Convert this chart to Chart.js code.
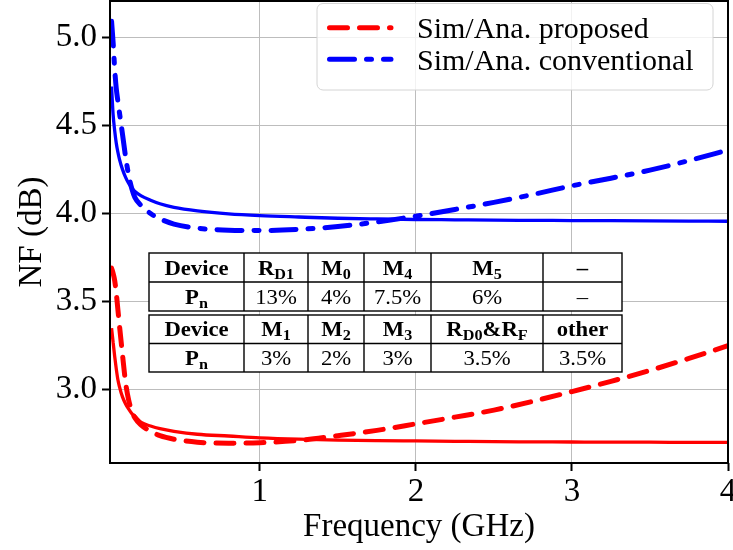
<!DOCTYPE html>
<html><head><meta charset="utf-8">
<script src="https://cdn.jsdelivr.net/npm/chart.js@4/dist/chart.umd.min.js"></script>
<style>html,body{margin:0;padding:0;background:#fff}#wrap{width:733px;height:550px}</style>
</head><body><div id="wrap"><canvas id="c" width="733" height="550"></canvas></div>
<script>
// ---- data ----
const freq = [0.05,0.06,0.07,0.08,0.09,0.1,0.12,0.14,0.16,0.18,0.2,0.24,0.3,0.36,0.45,0.6,0.8,1.0,1.25,1.5,1.75,2.0,2.25,2.5,2.75,3.0,3.25,3.5,3.75,4.0];
const propAna = [3.69,3.66,3.62,3.55,3.46,3.37,3.20,3.04,2.94,2.88,2.84,2.80,2.765,2.74,2.72,2.703,2.697,2.70,2.713,2.74,2.77,2.807,2.845,2.885,2.935,2.99,3.048,3.11,3.178,3.25];
const propSim = [3.35,3.27,3.19,3.12,3.06,3.02,2.96,2.92,2.89,2.865,2.85,2.815,2.795,2.78,2.765,2.748,2.738,2.728,2.72,2.715,2.712,2.71,2.708,2.706,2.705,2.704,2.703,2.703,2.702,2.702];
const convAna = [5.09,4.97,4.82,4.71,4.64,4.575,4.45,4.32,4.215,4.14,4.09,4.045,4.00,3.97,3.94,3.917,3.905,3.903,3.91,3.926,3.952,3.985,4.023,4.063,4.108,4.157,4.20,4.246,4.30,4.36];
const convSim = [4.72,4.56,4.47,4.40,4.35,4.31,4.25,4.205,4.17,4.145,4.125,4.10,4.075,4.055,4.035,4.015,3.998,3.988,3.98,3.973,3.969,3.966,3.964,3.962,3.961,3.96,3.959,3.958,3.957,3.956];
const legendLabels = ['Sim/Ana. proposed','Sim/Ana. conventional'];
const xTicks = [1,2,3,4];
const yTicks = [3.0,3.5,4.0,4.5,5.0];
const xLabel = 'Frequency (GHz)';
const yLabel = 'NF (dB)';
const tableRows = [
  ['Device','R_{D1}','M_{0}','M_{4}','M_{5}','–'],
  ['P_{n}','13%','4%','7.5%','6%','–'],
  ['Device','M_{1}','M_{2}','M_{3}','R_{D0}&R_{F}','other'],
  ['P_{n}','3%','2%','3%','3.5%','3.5%']
];

// ---- styling ----
const FONT = "'Liberation Serif', 'DejaVu Serif', serif";
const GRID = '#bdbdbd';
const RED = '#ff0000', BLUE = '#0000ff';
const DASH_RED = [18, 12];
const DASH_BLUE = [25, 12, 5, 12];

function pts(ys){ return freq.map((f,i)=>({x:f, y:ys[i]})); }

function parseRich(s){
  const parts=[]; const re=/_\{([^}]*)\}/g; let last=0, m;
  while((m=re.exec(s))){ if(m.index>last) parts.push({t:s.slice(last,m.index),sub:false}); parts.push({t:m[1],sub:true}); last=re.lastIndex; }
  if(last<s.length) parts.push({t:s.slice(last),sub:false});
  return parts;
}
function drawRich(ctx, s, cx, base, bold){
  const parts=parseRich(s);
  const sx=1.08;
  const mainF=(bold?'bold ':'')+'21px '+FONT;
  const subF=(bold?'bold ':'')+'15px '+FONT;
  let w=0;
  parts.forEach(p=>{ctx.font=p.sub?subF:mainF; p.w=ctx.measureText(p.t).width*sx; w+=p.w;});
  let x=cx-w/2;
  ctx.textAlign='left'; ctx.textBaseline='alphabetic'; ctx.fillStyle='#000';
  parts.forEach(p=>{
    ctx.font=p.sub?subF:mainF;
    ctx.save(); ctx.translate(x, base+(p.sub?4:0)); ctx.scale(sx,1); ctx.fillText(p.t,0,0); ctx.restore();
    x+=p.w;
  });
}

const overlay = {
  id:'overlay',
  afterDraw(chart){
    const ctx=chart.ctx, a=chart.chartArea;
    ctx.save();
    // frame
    ctx.strokeStyle='#000'; ctx.lineWidth=2;
    ctx.strokeRect(a.left, a.top, a.right-a.left, a.bottom-a.top);
    // table
    const cols=[149,244,308,364,431,543,622];
    const tables=[[253,282,311],[315,343.5,372]];
    tables.forEach((rows,ti)=>{
      ctx.fillStyle='#fff';
      ctx.fillRect(cols[0],rows[0],cols[6]-cols[0],rows[2]-rows[0]);
      ctx.strokeStyle='#000'; ctx.lineWidth=1.4;
      ctx.strokeRect(cols[0],rows[0],cols[6]-cols[0],rows[2]-rows[0]);
      ctx.beginPath();
      ctx.moveTo(cols[0],rows[1]); ctx.lineTo(cols[6],rows[1]);
      for(let c=1;c<6;c++){ ctx.moveTo(cols[c],rows[0]); ctx.lineTo(cols[c],rows[2]); }
      ctx.stroke();
      for(let r=0;r<2;r++){
        const row=tableRows[ti*2+r];
        for(let c=0;c<6;c++){
          const bold = r===0 || c===0;
          drawRich(ctx,row[c],(cols[c]+cols[c+1])/2,rows[r+1]-7.5,bold);
        }
      }
    });
    // legend
    const lx=317, ly=3.5, lw=396, lh=86.5, rr=6;
    ctx.beginPath();
    ctx.moveTo(lx+rr,ly); ctx.lineTo(lx+lw-rr,ly); ctx.arcTo(lx+lw,ly,lx+lw,ly+rr,rr);
    ctx.lineTo(lx+lw,ly+lh-rr); ctx.arcTo(lx+lw,ly+lh,lx+lw-rr,ly+lh,rr);
    ctx.lineTo(lx+rr,ly+lh); ctx.arcTo(lx,ly+lh,lx,ly+lh-rr,rr);
    ctx.lineTo(lx,ly+rr); ctx.arcTo(lx,ly,lx+rr,ly,rr); ctx.closePath();
    ctx.fillStyle='rgba(255,255,255,0.8)'; ctx.fill();
    ctx.strokeStyle='#d4d4d4'; ctx.lineWidth=1; ctx.stroke();
    const ys=[27.7,59.3];
    [0,1].forEach(i=>{
      const ds=chart.data.datasets[i];
      ctx.beginPath(); ctx.setLineDash(ds.borderDash); ctx.lineCap='round';
      ctx.strokeStyle=ds.borderColor; ctx.lineWidth=ds.borderWidth;
      ctx.moveTo(329.5,ys[i]); ctx.lineTo(391,ys[i]); ctx.stroke();
      ctx.setLineDash([]);
      ctx.font='30px '+FONT; ctx.fillStyle='#000'; ctx.textAlign='left'; ctx.textBaseline='alphabetic';
      ctx.fillText(ds.label,417,ys[i]+10.6);
    });
    ctx.restore();
  }
};

new Chart(document.getElementById('c'),{
  type:'line',
  data:{datasets:[
    {label:legendLabels[0], data:pts(propAna), borderColor:RED, borderWidth:5, borderDash:DASH_RED, borderCapStyle:'round', pointRadius:0, fill:false, cubicInterpolationMode:'monotone'},
    {label:legendLabels[1], data:pts(convAna), borderColor:BLUE, borderWidth:5, borderDash:DASH_BLUE, borderCapStyle:'round', pointRadius:0, fill:false, cubicInterpolationMode:'monotone'},
    {label:'proposed sim', data:pts(propSim), borderColor:RED, borderWidth:3.3, pointRadius:0, fill:false, cubicInterpolationMode:'monotone'},
    {label:'conventional sim', data:pts(convSim), borderColor:BLUE, borderWidth:3.3, pointRadius:0, fill:false, cubicInterpolationMode:'monotone'}
  ]},
  options:{
    responsive:false, animation:false, devicePixelRatio:1,
    layout:{padding:{left:0,top:1,right:5,bottom:3}},
    plugins:{legend:{display:false}, tooltip:{enabled:false}},
    scales:{
      x:{type:'linear', min:0.04, max:4,
        afterBuildTicks:s=>{s.ticks=xTicks.map(v=>({value:v}));},
        ticks:{font:{family:FONT,size:33}, color:'#000', padding:2, maxRotation:0, autoSkip:false, callback:v=>String(v)},
        grid:{color:GRID, lineWidth:1, tickColor:'#000', tickLength:8, tickWidth:2},
        border:{display:false},
        title:{display:true, text:xLabel, font:{family:FONT,size:33}, color:'#000', padding:{top:0,bottom:0}},
        afterFit:s=>{s.height=84; s.paddingLeft=0; s.paddingRight=0;}
      },
      y:{type:'linear', min:2.585, max:5.205,
        afterBuildTicks:s=>{s.ticks=yTicks.map(v=>({value:v}));},
        ticks:{font:{family:FONT,size:33}, color:'#000', padding:5, autoSkip:false, callback:v=>Number(v).toFixed(1)},
        grid:{color:GRID, lineWidth:1, tickColor:'#000', tickLength:8, tickWidth:2},
        border:{display:false},
        title:{display:true, text:yLabel, font:{family:FONT,size:33}, color:'#000', padding:{top:13,bottom:0}},
        afterFit:s=>{s.width=110; s.paddingTop=0; s.paddingBottom=0;}
      }
    }
  },
  plugins:[overlay]
});
</script></body></html>
